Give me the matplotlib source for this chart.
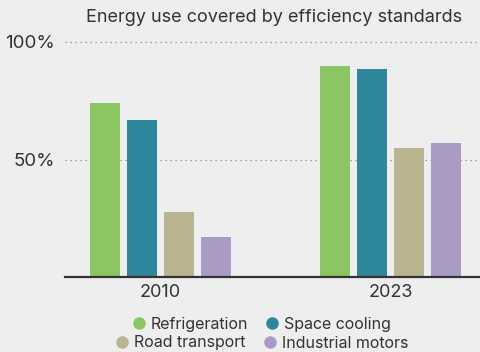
import matplotlib
matplotlib.use("Agg")
import matplotlib.pyplot as plt
from matplotlib.lines import Line2D
import numpy as np

years = ["2010", "2023"]
series = ["Refrigeration", "Space cooling", "Road transport", "Industrial motors"]
values = {
    "Refrigeration": [74, 90],
    "Space cooling": [67, 88.5],
    "Road transport": [27.5, 55],
    "Industrial motors": [17, 57],
}
colors = ["#8bc663", "#2e879a", "#bab591", "#aa9bc4"]
yticks = [50, 100]
ytick_labels = ["50%", "100%"]

plt.rcParams["font.family"] = ["Inter", "DejaVu Sans"]
bg = "#eeeeee"
txt = "#333333"

fig = plt.figure(figsize=(4.8, 3.52), dpi=100, facecolor=bg)
ax = fig.add_axes([65/480, 75/352, 415/480, 235/352], facecolor=bg)

x = np.arange(len(years))
width = 30/230
pitch = 37/230
for i, s in enumerate(series):
    off = (i - 1.5) * pitch
    ax.bar(x + off, values[s], width=width, color=colors[i], zorder=3)

ax.set_xlim(-95.5/230, 1 + 89.5/230)
ax.set_ylim(0, 100)
for yv in yticks:
    ax.axhline(yv, color="#888888", linestyle=(0, (1, 3)), linewidth=0.9, zorder=1, clip_on=False)
ax.axhline(0, color="#333333", linewidth=1.6, zorder=4, clip_on=False)

for sp in ax.spines.values():
    sp.set_visible(False)
ax.set_yticks(yticks)
ax.set_yticklabels(ytick_labels, fontsize=13.5, color=txt)
ax.tick_params(axis="y", length=0, pad=7)
ax.set_xticks(x)
ax.set_xticklabels(years, fontsize=13, color=txt)
ax.tick_params(axis="x", length=0, pad=5)

fig.text(274/480, 1 - 18/352, "Energy use covered by efficiency standards",
         ha="center", va="center", fontsize=13, color=txt)

def handle(c):
    return Line2D([], [], marker="o", linestyle="", markersize=8, markerfacecolor=c, markeredgecolor=c)

kw = dict(ncol=2, loc="center", frameon=False, fontsize=11.5, handletextpad=0.35,
          columnspacing=1.1, handlelength=0.8, labelcolor=txt, borderpad=0)
fig.legend([handle(colors[0]), handle(colors[1])], series[0:2],
           bbox_to_anchor=(262/480, 1 - 324/352), **kw)
fig.legend([handle(colors[2]), handle(colors[3])], series[2:4],
           bbox_to_anchor=(262/480, 1 - 343/352), **kw)

fig.savefig("out.png", dpi=100, facecolor=bg)
